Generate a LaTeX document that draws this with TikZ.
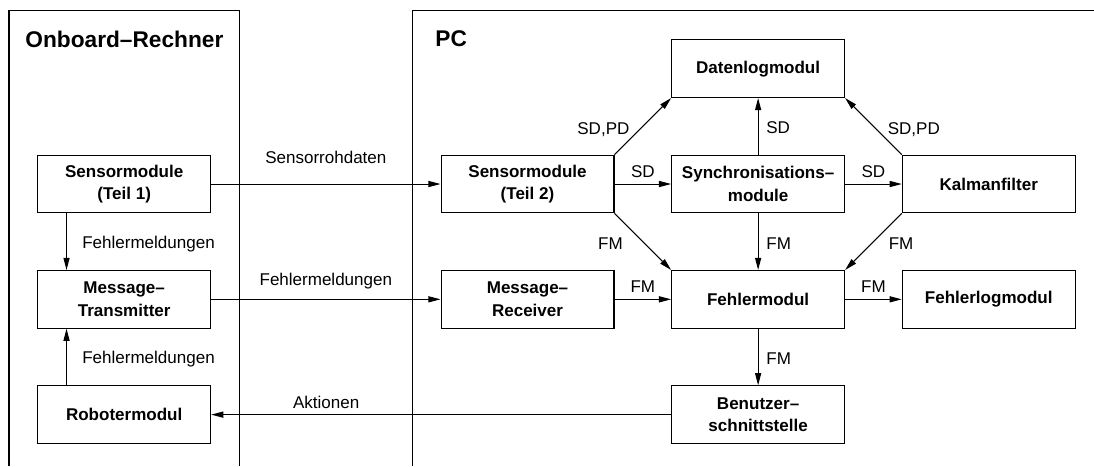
\documentclass[tikz,border=0pt]{standalone}
\usepackage{fontspec}
\setmainfont{Liberation Sans}
\usetikzlibrary{arrows.meta}

\begin{document}
\begin{tikzpicture}[x=2cm,y=2cm,
        box/.style={draw,line width=0.5pt,minimum width=3cm,minimum height=1cm,inner sep=0pt,align=center,font=\fontsize{8.4}{11.2}\selectfont\bfseries},
        lbl/.style={inner sep=0pt,font=\fontsize{8.4}{10}\selectfont},
        hlbl/.style={lbl,anchor=base,yshift=0.121cm},
        vlbl/.style={lbl,anchor=base west,xshift=0.134cm,yshift=-0.13cm},
        arr/.style={line width=0.5pt,-{Triangle[length=6pt,width=3pt]}},
        ttl/.style={anchor=base west,inner sep=0pt,font=\fontsize{11.2}{13}\selectfont\bfseries}]
        \useasboundingbox (0,0) rectangle (9.488,-4.042);
        \draw[line width=0.5pt] (0.078,-4.042) |- (2.075,-0.095) -- (2.075,-4.042);
        \draw[line width=0.5pt] (3.579,-4.042) |- (9.488,-0.095);
        \node[ttl] (onboard) at (0.217,-0.412) {Onboard–Rechner};
        \node[ttl] (pc) at (3.773,-0.405) {PC};
        \foreach \name/\x/\y/\txt in {sm1/1.077/-1.596/{Sensormodule\\(Teil 1)},
                mt/1.077/-2.596/{Message–\\Transmitter}, rob/1.077/-3.596/Robotermodul,
                dlog/6.575/-0.596/Datenlogmodul, sm2/4.575/-1.596/{Sensormodule\\(Teil 2)},
                sync/6.575/-1.596/{Synchronisations–\\module}, kal/8.575/-1.596/Kalmanfilter,
                mr/4.575/-2.596/{Message–\\Receiver}, fm/6.575/-2.596/Fehlermodul,
                flog/8.575/-2.596/Fehlerlogmodul, bs/6.575/-3.596/{Benutzer–\\schnittstelle}}
            \node[box] (\name) at (\x,\y) {\txt};
        \draw[arr] (sm1) -- node[lbl,anchor=base,yshift=0.359cm] {Sensorrohdaten} (sm2);
        \draw[arr] (mt) -- node[lbl,anchor=base,yshift=0.248cm] {Fehlermeldungen} (mr);
        \draw[arr] (bs) -- node[lbl,pos=0.75,anchor=base,yshift=0.104cm] {Aktionen} (rob);
        \draw[arr] ([xshift=-1cm]sm1.south) -- node[lbl,anchor=base west,xshift=0.265cm,yshift=-0.115cm] {Fehlermeldungen} ([xshift=-1cm]mt.north);
        \draw[arr] ([xshift=-1cm]rob.north) -- node[lbl,anchor=base west,xshift=0.265cm,yshift=-0.115cm] {Fehlermeldungen} ([xshift=-1cm]mt.south);
        \draw[arr] (sm2) -- node[hlbl] {SD} (sync);
        \draw[arr] (sync) -- node[hlbl] {SD} (kal);
        \draw[arr] (mr) -- node[hlbl] {FM} (fm);
        \draw[arr] (fm) -- node[hlbl] {FM} (flog);
        \draw[arr] (sync) -- node[vlbl] {SD} (dlog);
        \draw[arr] (sync) -- node[vlbl] {FM} (fm);
        \draw[arr] (fm) -- node[vlbl] {FM} (bs);
        \draw[arr] (sm2.north east) -- node[lbl,anchor=base east,xshift=-0.224cm,yshift=-0.139cm] {SD,PD} (dlog.south west);
        \draw[arr] (kal.north west) -- node[lbl,anchor=base west,xshift=0.24cm,yshift=-0.139cm] {SD,PD} (dlog.south east);
        \draw[arr] (sm2.south east) -- node[lbl,anchor=base east,xshift=-0.34cm,yshift=-0.135cm] {FM} (fm.north west);
        \draw[arr] (kal.south west) -- node[lbl,anchor=base west,xshift=0.257cm,yshift=-0.135cm] {FM} (fm.north east);
\end{tikzpicture}
\end{document}
